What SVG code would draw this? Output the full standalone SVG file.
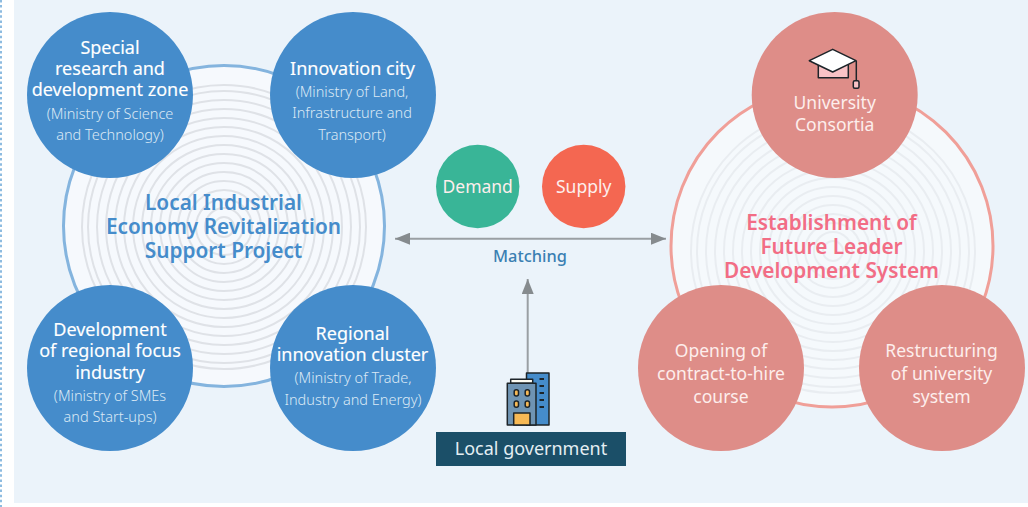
<svg xmlns="http://www.w3.org/2000/svg" width="1028" height="507" viewBox="0 0 1028 507">
<style>
text{font-family:"Noto Sans","Open Sans",sans-serif;text-anchor:middle}
.blue{fill:#458ccb}.pink{fill:#de8d88}
.t{font-size:18px;font-weight:400;fill:#fff;stroke:#fff;stroke-width:.15px}
.s{font-size:14.500px;font-weight:300;fill:#dbe9f5}
.p{font-size:17.500px;fill:#fdeeec}
.big{font-size:20.800px;font-weight:600}
.ring{fill:none;stroke-width:2}
.ink{stroke:#1d2429;stroke-width:1.500;stroke-linejoin:round}
.conn{stroke:#9a9fa3;stroke-width:2;fill:none}
.head{fill:#868b8e}
</style>
<defs>
<g id="rings" class="ring">
<circle r="10"/><circle r="19"/><circle r="28"/><circle r="37"/><circle r="46"/><circle r="55"/><circle r="64"/><circle r="73"/><circle r="82"/><circle r="91"/><circle r="100"/><circle r="109"/><circle r="118"/><circle r="127"/><circle r="136"/><circle r="142"/>
</g>
<marker id="ah" viewBox="0 0 15 12" refX="15" refY="6" markerWidth="15" markerHeight="12" markerUnits="userSpaceOnUse" orient="auto-start-reverse"><path class="head" d="M0 0L15 6L0 12Z"/></marker>
</defs>
<rect width="1028" height="507" fill="#fff"/>
<line x1="1" y1="0" x2="1" y2="507" stroke="#8dbbe0" stroke-width="2" stroke-dasharray="2.500 2.600"/>
<rect x="14" y="0" width="1014" height="503" fill="#ebf3fa"/>

<g id="left-hub">
<circle cx="224" cy="226" r="160.500" fill="#f6f9fd" stroke="#84b4de" stroke-width="3"/>
<use href="#rings" x="224" y="227" stroke="#dfe2e7"/>
<text class="big" fill="#458ccb"><tspan x="223.500" y="210">Local Industrial</tspan><tspan x="223.500" y="234">Economy Revitalization</tspan><tspan x="223.500" y="258">Support Project</tspan></text>
</g>
<g id="right-hub">
<circle cx="832" cy="246" r="161" fill="#f5f9fc" stroke="#f09f98" stroke-width="3"/>
<use href="#rings" x="833" y="251" stroke="#e9edf1"/>
<text class="big" fill="#f26d85"><tspan x="831.500" y="230">Establishment of</tspan><tspan x="831.500" y="254">Future Leader</tspan><tspan x="831.500" y="278">Development System</tspan></text>
</g>

<g id="connectors">
<line class="conn" x1="395" y1="238.700" x2="666" y2="238.700" marker-start="url(#ah)" marker-end="url(#ah)"/>
<line class="conn" x1="527.700" y1="373" x2="527.700" y2="279" marker-end="url(#ah)"/>
<text x="530" y="262" font-size="16.400" font-weight="500" fill="#3a7fb2">Matching</text>
</g>

<g id="node-special">
<circle class="blue" cx="110" cy="95" r="83"/>
<text class="t"><tspan x="110" y="54">Special</tspan><tspan x="110" y="75">research and</tspan><tspan x="110" y="96">development zone</tspan></text>
<text class="s"><tspan x="110" y="119">(Ministry of Science</tspan><tspan x="110" y="140">and Technology)</tspan></text>
</g>
<g id="node-innovation">
<circle class="blue" cx="353" cy="95" r="83"/>
<text class="t" x="352.500" y="75">Innovation city</text>
<text class="s"><tspan x="352" y="97">(Ministry of Land,</tspan><tspan x="352" y="118">Infrastructure and</tspan><tspan x="352" y="140">Transport)</tspan></text>
</g>
<g id="node-development">
<circle class="blue" cx="110" cy="368" r="83"/>
<text class="t"><tspan x="110" y="336">Development</tspan><tspan x="110" y="357">of regional focus</tspan><tspan x="110" y="379">industry</tspan></text>
<text class="s"><tspan x="110" y="401">(Ministry of SMEs</tspan><tspan x="110" y="422">and Start-ups)</tspan></text>
</g>
<g id="node-cluster">
<circle class="blue" cx="353" cy="368" r="83"/>
<text class="t"><tspan x="352.500" y="340">Regional</tspan><tspan x="352.500" y="361">innovation cluster</tspan></text>
<text class="s"><tspan x="353" y="383">(Ministry of Trade,</tspan><tspan x="353" y="405">Industry and Energy)</tspan></text>
</g>

<g id="node-demand">
<circle cx="477.700" cy="186.500" r="41.700" fill="#39b597"/>
<text class="p" x="477.700" y="193" fill="#eefaf6">Demand</text>
</g>
<g id="node-supply">
<circle cx="583.700" cy="186.500" r="41.700" fill="#f46751"/>
<text class="p" x="583.700" y="193">Supply</text>
</g>

<g id="node-university">
<circle class="pink" cx="834.700" cy="95" r="83"/>
<path class="ink" d="M818.300 65V77.700H848.300V65" fill="#f9c3c6"/>
<path class="ink" d="M809.300 60.700L832.700 49.300L856 60.700L832.700 72Z" fill="#fff"/>
<path class="ink" fill="none" d="M856.300 60.700V80.700"/>
<rect class="ink" x="853.300" y="80.700" width="5.700" height="7.600" rx="1.500" fill="#f9c3c6"/>
<text class="p"><tspan x="834.700" y="109">University</tspan><tspan x="834.700" y="131">Consortia</tspan></text>
</g>
<g id="node-opening">
<circle class="pink" cx="721" cy="368" r="83"/>
<text class="p"><tspan x="721" y="357">Opening of</tspan><tspan x="721" y="380">contract-to-hire</tspan><tspan x="721" y="403">course</tspan></text>
</g>
<g id="node-restructuring">
<circle class="pink" cx="942" cy="368" r="83"/>
<text class="p"><tspan x="941.500" y="357">Restructuring</tspan><tspan x="941.500" y="380">of university</tspan><tspan x="941.500" y="403">system</tspan></text>
</g>

<g id="node-government">
<rect class="ink" x="526.500" y="373" width="22.500" height="52" fill="#458ccb"/>
<path stroke="#1d2429" stroke-width="2" d="M539.500 379h4.500M539.500 386h4.500M539.500 393h4.500M539.500 400h4.500M539.500 407h4.500"/>
<rect class="ink" x="510.700" y="379.300" width="22" height="4" fill="#fffdf3"/>
<rect class="ink" x="507.300" y="383.300" width="28.700" height="41.700" fill="#6f94b3"/>
<g class="ink" fill="#f7b955">
<rect x="514.200" y="389.700" width="4.300" height="6.300" rx="2"/><rect x="525.200" y="389.700" width="4.300" height="6.300" rx="2"/>
<rect x="514.200" y="400.900" width="4.300" height="6.300" rx="2"/><rect x="525.200" y="400.900" width="4.300" height="6.300" rx="2"/>
<rect x="513.700" y="412.900" width="16.300" height="12.100"/>
</g>
<rect x="436" y="432" width="190" height="34" fill="#1b4f68"/>
<text x="531" y="455" font-size="18" fill="#e4eef3">Local government</text>
</g>
</svg>
